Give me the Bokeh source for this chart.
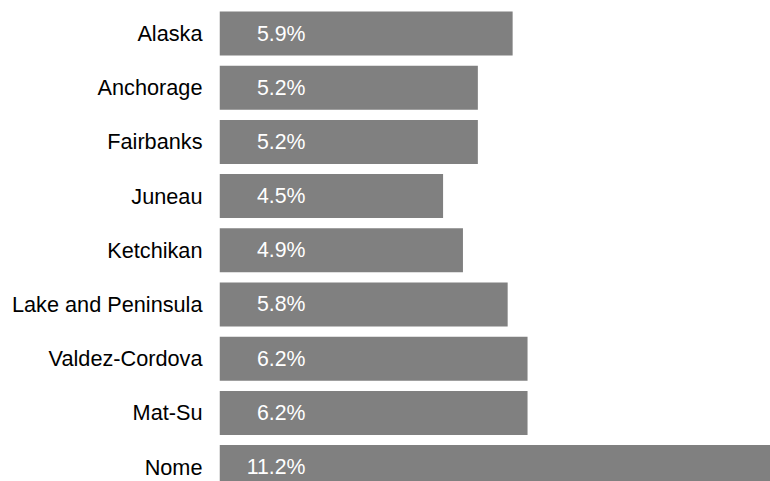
from bokeh.plotting import figure
from bokeh.models import ColumnDataSource, Range1d, LinearAxis, FixedTicker
from bokeh.core.properties import value
from bokeh.embed import file_html
from bokeh.resources import INLINE

categories = ["Alaska", "Anchorage", "Fairbanks", "Juneau", "Ketchikan",
              "Lake and Peninsula", "Valdez-Cordova", "Mat-Su", "Nome"]
rates = [5.9, 5.2, 5.2, 4.5, 4.9, 5.8, 6.2, 6.2, 11.2]
labels = [f"{v:.1f}%" for v in rates]

ypos = list(range(len(categories)))
src = ColumnDataSource(dict(y=ypos, v=rates, lbl=labels, cat=categories))

p = figure(width=770, height=481, output_backend="svg", toolbar_location=None,
           x_range=Range1d(0, 11.09), y_range=Range1d(8.266, -0.609),
           x_axis_location=None, y_axis_location=None,
           min_border_left=219, min_border_right=0, min_border_top=0,
           min_border_bottom=0)
p.outline_line_color = None
p.xgrid.visible = False
p.ygrid.visible = False

ax = LinearAxis(ticker=FixedTicker(ticks=ypos),
                major_label_overrides={i: c for i, c in zip(ypos, categories)})
ax.axis_line_color = None
ax.major_tick_line_color = None
ax.minor_tick_line_color = None
ax.major_tick_out = 0
ax.major_label_standoff = 17
ax.major_label_text_font = "Liberation Sans"
ax.major_label_text_font_size = "21.7px"
ax.major_label_text_color = "#000000"
p.add_layout(ax, "left")

p.hbar(y="y", left=0, right="v", height=0.812, fill_color="#808080",
       line_color=None, source=src)
p.text(x=0, y="y", text="lbl", x_offset=86, text_align="right",
       text_baseline="middle", text_color="#ffffff",
       text_font=value("Liberation Sans"), text_font_size="21.3px", source=src)

open("out.html", "w").write(file_html(p, INLINE))
